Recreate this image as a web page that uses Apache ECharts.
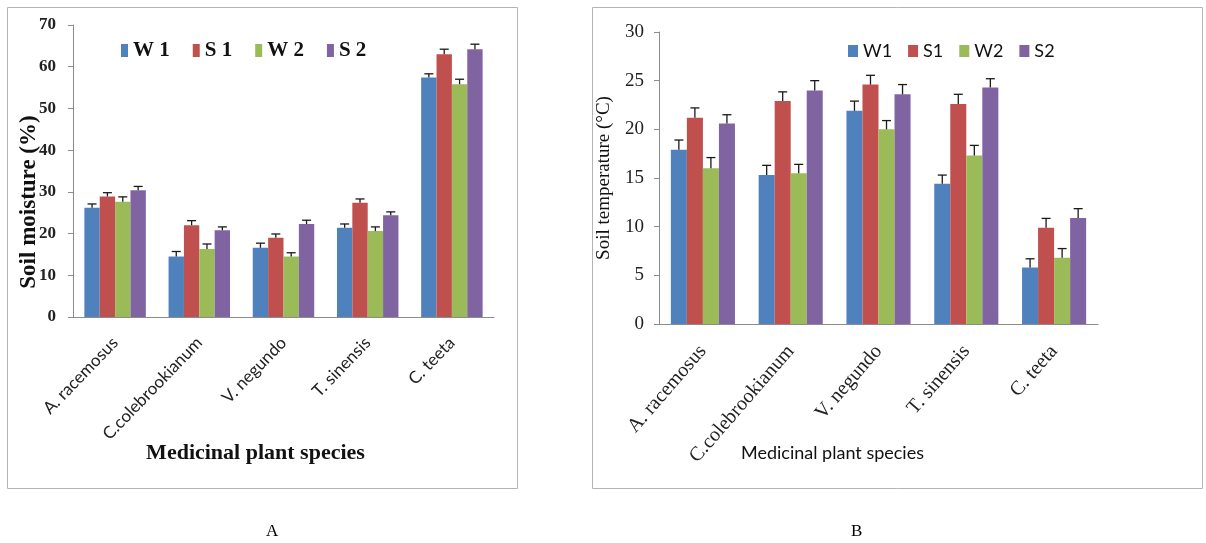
<!DOCTYPE html>
<html>
<head>
<meta charset="utf-8">
<script src="https://cdn.jsdelivr.net/npm/echarts@6/dist/echarts.min.js"></script>
<style>html,body{margin:0;padding:0;background:#fff;}#c{width:1206px;height:543px;}</style>
</head>
<body>
<div id="c"></div>
<script>
// ---- data ----
const categories = ['A. racemosus', 'C.colebrookianum', 'V. negundo', 'T. sinensis', 'C. teeta'];
const seriesNamesA = ['W 1', 'S 1', 'W 2', 'S 2'];
const seriesNamesB = ['W1', 'S1', 'W2', 'S2'];
const moistureW1 = [26.2, 14.5, 16.6, 21.4, 57.4];
const moistureS1 = [28.9, 22.0, 19.0, 27.4, 63.0];
const moistureW2 = [27.6, 16.3, 14.5, 20.6, 55.8];
const moistureS2 = [30.4, 20.8, 22.3, 24.4, 64.2];
const moistureErrW1 = [0.9, 1.2, 1.1, 0.9, 0.9];
const moistureErrS1 = [0.9, 1.1, 0.9, 0.9, 1.2];
const moistureErrW2 = [1.2, 1.2, 0.9, 1.0, 1.2];
const moistureErrS2 = [0.9, 0.8, 0.9, 0.8, 1.2];
const tempW1 = [17.9, 15.3, 21.9, 14.4, 5.8];
const tempS1 = [21.2, 22.9, 24.6, 22.6, 9.9];
const tempW2 = [16.0, 15.5, 20.0, 17.3, 6.8];
const tempS2 = [20.6, 24.0, 23.6, 24.3, 10.9];
const tempErrW1 = [1.0, 1.0, 1.0, 0.9, 0.9];
const tempErrS1 = [1.0, 0.95, 0.95, 1.0, 0.95];
const tempErrW2 = [1.1, 0.9, 0.9, 1.05, 0.95];
const tempErrS2 = [0.9, 1.0, 1.0, 0.9, 0.95];
const moistureTicks = {min: 0, max: 70, interval: 10};
const tempTicks = {min: 0, max: 30, interval: 5};

const colors = ['#4f81bd', '#c0504d', '#9bbb59', '#8064a2'];
const CAT_GAP = 0.27;
const serif = 'Liberation Serif';
const sans = 'Lato';

const chart = echarts.init(document.getElementById('c'), null, {renderer: 'canvas'});

function barSeries(name, data, idx, axisIdx) {
  return {
    type: 'bar', name: name, data: data,
    xAxisIndex: axisIdx, yAxisIndex: axisIdx,
    barGap: '0%', barCategoryGap: (CAT_GAP * 100) + '%',
    itemStyle: {color: colors[idx]},
    emphasis: {disabled: true}
  };
}
function errSeries(vals, errs, idx, axisIdx) {
  return {
    type: 'custom', xAxisIndex: axisIdx, yAxisIndex: axisIdx, silent: true, z: 5,
    data: vals.map((v, i) => [i, v, v + errs[i]]),
    renderItem: function (params, api) {
      const x = api.value(0);
      const base = api.coord([x, api.value(1)]);
      const top = api.coord([x, api.value(2)]);
      const band = api.size([1, 0])[0];
      const bw = band * (1 - CAT_GAP) / 4;
      const cx = base[0] + (idx - 2 + 0.5) * bw;
      const st = {stroke: '#1a1a1a', lineWidth: 1.3};
      return {type: 'group', children: [
        {type: 'line', shape: {x1: cx, y1: base[1], x2: cx, y2: top[1]}, style: st},
        {type: 'line', shape: {x1: cx - 4.5, y1: top[1], x2: cx + 4.5, y2: top[1]}, style: st}
      ]};
    }
  };
}

const axisLineStyle = {lineStyle: {color: '#8c8c8c', width: 1}};

const option = {
  backgroundColor: '#ffffff',
  animation: false,
  graphic: [
    {type: 'rect', shape: {x: 7.5, y: 7.5, width: 510, height: 481}, style: {fill: 'none', stroke: '#b4b4b4', lineWidth: 1}, z: -1},
    {type: 'rect', shape: {x: 592.5, y: 7.5, width: 610, height: 481}, style: {fill: 'none', stroke: '#b4b4b4', lineWidth: 1}, z: -1},
    {type: 'text', left: 266, top: 523, style: {text: 'A', font: '17px "Liberation Serif"', fill: '#000'}},
    {type: 'text', left: 851, top: 523, style: {text: 'B', font: '17px "Liberation Serif"', fill: '#000'}}
  ],
  legend: [
    {data: seriesNamesA, left: 116, top: 35, itemWidth: 7, itemHeight: 13, itemGap: 23, icon: 'rect',
     textStyle: {fontFamily: serif, fontWeight: 'bold', fontSize: 21, color: '#111'}},
    {data: seriesNamesB, left: 843, top: 37, itemWidth: 10, itemHeight: 12, itemGap: 16, icon: 'rect',
     textStyle: {fontFamily: sans, fontSize: 18, color: '#111'}}
  ],
  grid: [
    {left: 73, right: 712, top: 25, bottom: 226, containLabel: false, outerBoundsMode: 'none'},
    {left: 659, right: 108, top: 32, bottom: 219, containLabel: false, outerBoundsMode: 'none'}
  ],
  xAxis: [
    {type: 'category', gridIndex: 0, data: categories,
     axisLine: axisLineStyle, axisTick: {alignWithLabel: true, length: 5, lineStyle: {color: '#8c8c8c'}},
     axisLabel: {rotate: 46, margin: 23, interval: 0, fontFamily: sans, fontSize: 17, color: '#222'},
     name: 'Medicinal plant species', nameLocation: 'middle', nameGap: 125, nameMoveOverlap: false,
     nameTextStyle: {fontFamily: serif, fontWeight: 'bold', fontSize: 22, color: '#111', padding: [0, 56, 0, 0]}},
    {type: 'category', gridIndex: 1, data: categories,
     axisLine: axisLineStyle, axisTick: {length: 5, lineStyle: {color: '#8c8c8c'}},
     axisLabel: {rotate: 49, margin: 24, interval: 0, fontFamily: serif, fontSize: 20, color: '#222'},
     name: 'Medicinal plant species', nameLocation: 'middle', nameGap: 120, nameMoveOverlap: false,
     nameTextStyle: {fontFamily: sans, fontSize: 18, color: '#111', padding: [0, 92, 0, 0]}}
  ],
  yAxis: [
    {type: 'value', gridIndex: 0, min: moistureTicks.min, max: moistureTicks.max, interval: moistureTicks.interval,
     splitLine: {show: false}, axisLine: {show: true, lineStyle: {color: '#8c8c8c'}},
     axisTick: {show: true, length: 5, lineStyle: {color: '#8c8c8c'}},
     axisLabel: {margin: 17, fontFamily: serif, fontWeight: 'bold', fontSize: 17, color: '#222'},
     name: 'Soil moisture (%)', nameLocation: 'middle', nameGap: 32, nameMoveOverlap: false,
     nameTextStyle: {fontFamily: serif, fontWeight: 'bold', fontSize: 23, color: '#111', padding: [0, 62, 0, 0]}},
    {type: 'value', gridIndex: 1, min: tempTicks.min, max: tempTicks.max, interval: tempTicks.interval,
     splitLine: {show: false}, axisLine: {show: true, lineStyle: {color: '#8c8c8c'}},
     axisTick: {show: true, length: 5, lineStyle: {color: '#8c8c8c'}},
     axisLabel: {margin: 15, fontFamily: serif, fontSize: 19, color: '#222'},
     name: 'Soil temperature (\u00B0C)', nameLocation: 'middle', nameGap: 45, nameMoveOverlap: false,
     nameTextStyle: {fontFamily: serif, fontSize: 19, color: '#111'}}
  ],
  series: [
    barSeries(seriesNamesA[0], moistureW1, 0, 0),
    barSeries(seriesNamesA[1], moistureS1, 1, 0),
    barSeries(seriesNamesA[2], moistureW2, 2, 0),
    barSeries(seriesNamesA[3], moistureS2, 3, 0),
    errSeries(moistureW1, moistureErrW1, 0, 0),
    errSeries(moistureS1, moistureErrS1, 1, 0),
    errSeries(moistureW2, moistureErrW2, 2, 0),
    errSeries(moistureS2, moistureErrS2, 3, 0),
    barSeries(seriesNamesB[0], tempW1, 0, 1),
    barSeries(seriesNamesB[1], tempS1, 1, 1),
    barSeries(seriesNamesB[2], tempW2, 2, 1),
    barSeries(seriesNamesB[3], tempS2, 3, 1),
    errSeries(tempW1, tempErrW1, 0, 1),
    errSeries(tempS1, tempErrS1, 1, 1),
    errSeries(tempW2, tempErrW2, 2, 1),
    errSeries(tempS2, tempErrS2, 3, 1)
  ]
};
chart.setOption(option);
</script>
</body>
</html>
